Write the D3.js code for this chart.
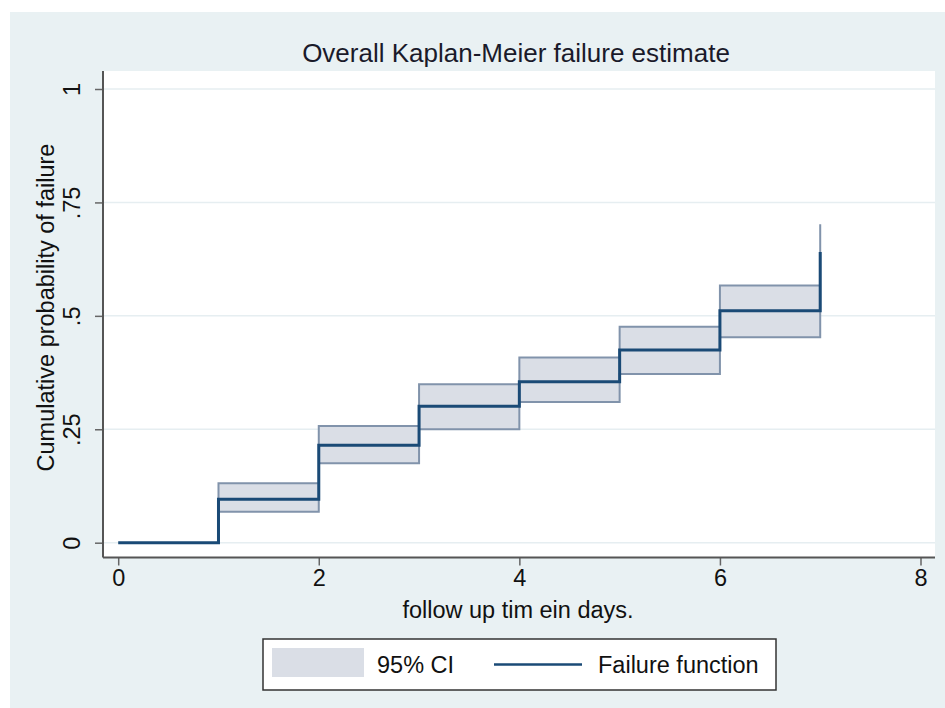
<!DOCTYPE html>
<html>
<head>
<meta charset="utf-8">
<script src="https://cdn.jsdelivr.net/npm/d3@7"></script>
<style>
  html, body { margin: 0; padding: 0; background: #ffffff; }
  svg { display: block; font-family: "Liberation Sans", Arial, sans-serif; }
</style>
</head>
<body>
<script>
// ---- data ----
const times = [0, 1, 2, 3, 4, 5, 6, 7];
const failure = [0, 0.096, 0.215, 0.301, 0.355, 0.425, 0.511, 0.641];
const ciTimes = [1, 2, 3, 4, 5, 6, 7];
const ciLower = [0.068, 0.175, 0.250, 0.310, 0.372, 0.453, 0.570];
const ciUpper = [0.131, 0.257, 0.349, 0.408, 0.476, 0.567, 0.702];
const xTicks = [0, 2, 4, 6, 8];
const yTicks = [0, 0.25, 0.5, 0.75, 1];
const yTickLabels = ["0", ".25", ".5", ".75", "1"];
const titleText = "Overall Kaplan-Meier failure estimate";
const xTitle = "follow up tim ein days.";
const yTitle = "Cumulative probability of failure";
const legendLabels = ["95% CI", "Failure function"];

// ---- layout ----
const W = 945, H = 708;
const plot = { left: 103, right: 935, top: 71, bottom: 557.5 };
const navy = "#1a4a76";
const ciFill = "#dadee6";
const ciStroke = "#8193ab";
const bg = "#e9f1f3";

const svg = d3.select("body").append("svg").attr("width", W).attr("height", H);

svg.append("rect").attr("x", 10).attr("y", 12).attr("width", W - 10).attr("height", H - 12).attr("fill", bg);
svg.append("rect").attr("x", plot.left).attr("y", plot.top)
  .attr("width", plot.right - plot.left).attr("height", plot.bottom - plot.top).attr("fill", "#ffffff");

const x = d3.scaleLinear().domain([0, 8]).range([118.2, 920.5]);
const y = d3.scaleLinear().domain([0, 1]).range([542.7, 89]);

// gridlines
svg.append("g").selectAll("line").data(yTicks).join("line")
  .attr("x1", plot.left).attr("x2", plot.right)
  .attr("y1", d => y(d)).attr("y2", d => y(d))
  .attr("stroke", "#e6eef1").attr("stroke-width", 1.5);

// CI band
const ciData = ciTimes.map((t, i) => ({ t, lo: ciLower[i], hi: ciUpper[i] }));
const area = d3.area().curve(d3.curveStepAfter)
  .x(d => x(d.t)).y0(d => y(d.lo)).y1(d => y(d.hi));
svg.append("path").datum(ciData).attr("d", area)
  .attr("fill", ciFill).attr("stroke", ciStroke).attr("stroke-width", 2)
  .attr("stroke-linejoin", "miter");

// failure line
const fData = times.map((t, i) => ({ t, v: failure[i] }));
const line = d3.line().curve(d3.curveStepAfter).x(d => x(d.t)).y(d => y(d.v));
svg.append("path").datum(fData).attr("d", line)
  .attr("fill", "none").attr("stroke", navy).attr("stroke-width", 3);

// axes
const axisColor = "#555555";
const xAxis = d3.axisBottom(x).tickValues(xTicks).tickSize(8).tickPadding(6).tickFormat(d3.format("d"));
const gx = svg.append("g").attr("transform", `translate(0,${plot.bottom})`).call(xAxis);
gx.select(".domain").remove();
gx.append("line").attr("x1", plot.left).attr("x2", plot.right).attr("y1", 0).attr("y2", 0)
  .attr("stroke", axisColor).attr("stroke-width", 2);
gx.selectAll(".tick line").attr("stroke", "#666").attr("stroke-width", 1.5);
gx.selectAll(".tick text").attr("font-size", 23.5).attr("fill", "#111")
  .attr("font-family", "Liberation Sans, Arial, sans-serif").attr("dy", "0.72em").attr("y", 12);

const yAxis = d3.axisLeft(y).tickValues(yTicks).tickSize(8)
  .tickFormat((d, i) => yTickLabels[i]);
const gy = svg.append("g").attr("transform", `translate(${plot.left},0)`).call(yAxis);
gy.select(".domain").remove();
gy.append("line").attr("x1", 0).attr("x2", 0).attr("y1", plot.top).attr("y2", plot.bottom)
  .attr("stroke", axisColor).attr("stroke-width", 2);
gy.selectAll(".tick line").attr("stroke", "#666").attr("stroke-width", 1.5);
gy.selectAll(".tick text")
  .attr("font-size", 23.5).attr("fill", "#111")
  .attr("font-family", "Liberation Sans, Arial, sans-serif")
  .attr("x", null).attr("dy", null)
  .attr("text-anchor", "middle")
  .attr("transform", "translate(-23,0) rotate(-90)");

// titles
svg.append("text").attr("x", 516).attr("y", 62).attr("text-anchor", "middle")
  .attr("font-size", 26).attr("fill", "#1a1a2a").text(titleText);
svg.append("text").attr("x", 518).attr("y", 618).attr("text-anchor", "middle")
  .attr("font-size", 23.5).attr("fill", "#111").text(xTitle);
svg.append("text").attr("transform", `translate(54,${(142 + 473) / 2}) rotate(-90)`)
  .attr("text-anchor", "middle").attr("font-size", 23.5).attr("fill", "#111").text(yTitle);

// legend
const lg = svg.append("g");
lg.append("rect").attr("x", 263).attr("y", 639).attr("width", 513).attr("height", 51)
  .attr("fill", "#ffffff").attr("stroke", "#333").attr("stroke-width", 1.5);
lg.append("rect").attr("x", 272).attr("y", 648).attr("width", 92).attr("height", 29).attr("fill", ciFill);
lg.append("text").attr("x", 377).attr("y", 673).attr("font-size", 23.5).attr("fill", "#111").text(legendLabels[0]);
lg.append("line").attr("x1", 494).attr("x2", 582).attr("y1", 664.5).attr("y2", 664.5)
  .attr("stroke", navy).attr("stroke-width", 2.5);
lg.append("text").attr("x", 598).attr("y", 673).attr("font-size", 23.5).attr("fill", "#111").text(legendLabels[1]);
</script>
</body>
</html>
